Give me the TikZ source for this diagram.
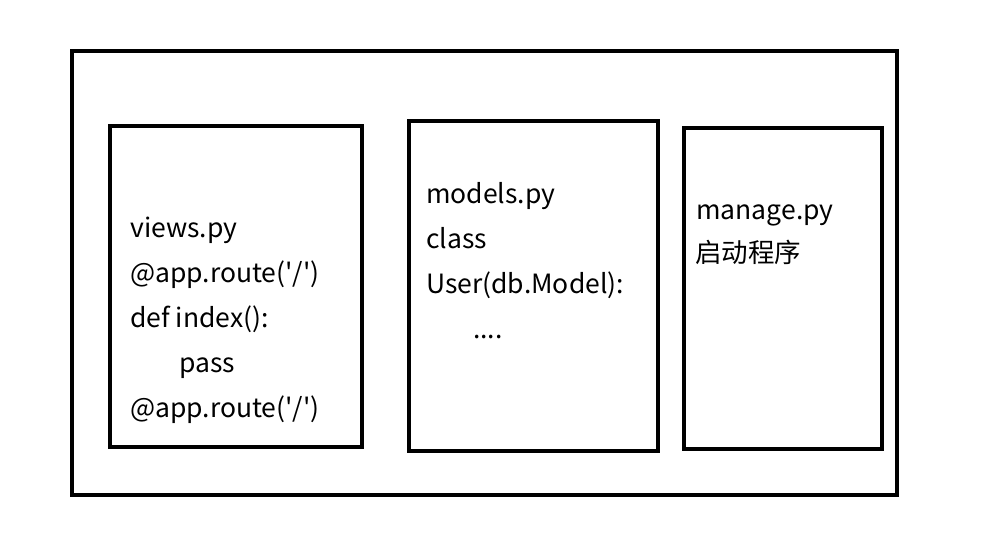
\documentclass[tikz,border=0pt]{standalone}
\usepackage{fontspec}
\setmainfont{Noto Sans CJK SC}[Ligatures=TeXOff]
\begin{document}
\begin{tikzpicture}[x=1pt,y=-1pt,
  box/.style={draw=black,line width=4pt},
  txt/.style={anchor=base west,inner sep=0pt,font=\fontsize{26.5}{30}\selectfont}]
\useasboundingbox (0,0) rectangle (1003,559);
\draw[box] (72,51) rectangle (897,495);
\draw[box] (110,126) rectangle (362,447);
\draw[box] (409,121) rectangle (658,451);
\draw[box] (684,128) rectangle (882,449);
\node[txt] (v1) at (130,237) {views.py};
\node[txt] (v2) at (130,282) {@app.route('/')};
\node[txt] (v3) at (130,327) {def index():};
\node[txt] (v4) at (179,372) {pass};
\node[txt] (v5) at (130,417) {@app.route('/')};
\node[txt] (m1) at (426,203) {models.py};
\node[txt] (m2) at (426,248) {class};
\node[txt] (m3) at (426,293) {User(db.Model):};
\node[txt] (m4) at (473,338) {....};
\node[txt] (g1) at (696,219) {manage.py};
\node[txt] (g2) at (695,262) {启动程序};
\end{tikzpicture}
\end{document}
